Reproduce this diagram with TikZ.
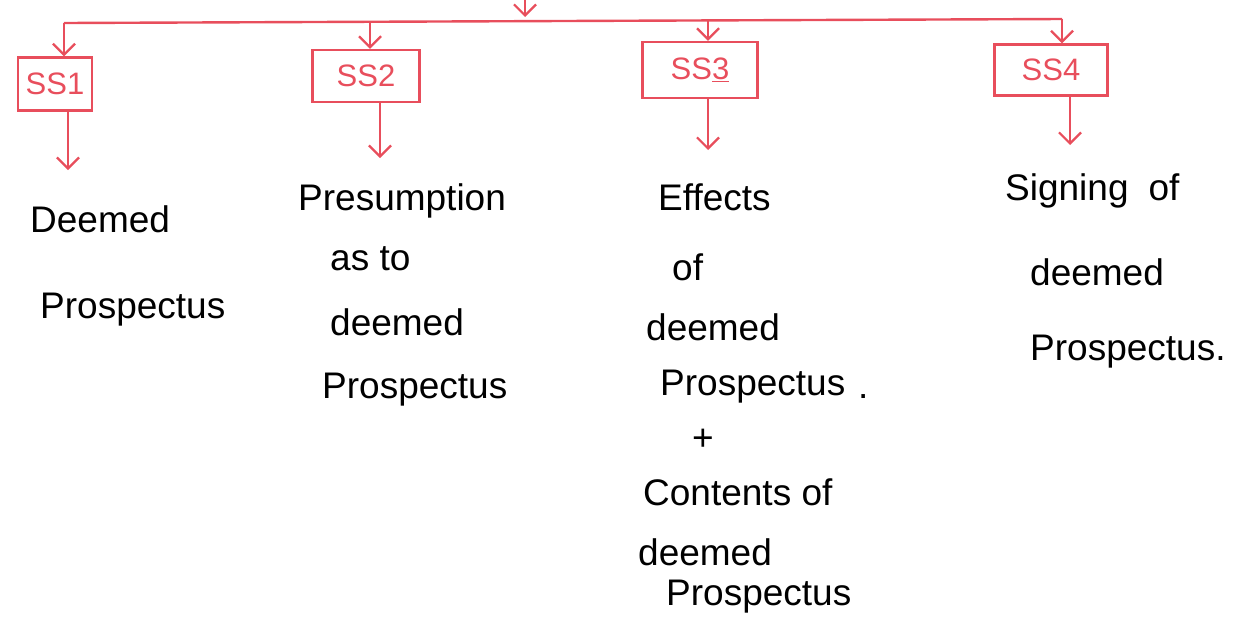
\documentclass[tikz,border=0pt]{standalone}
\usepackage{fontspec}
\setmainfont{Liberation Sans}
\usetikzlibrary{arrows.meta}
\definecolor{pen}{RGB}{232,78,92}
\tikzset{
  x=1pt, y=-1pt,
  redline/.style={draw=pen, line width=2.4pt},
  redarrow/.style={draw=pen, line width=2.4pt, -{Straight Barb[length=11pt,width=22pt,line width=2.2pt]}},
  ssbox/.style={draw=pen, line width=2.4pt, text=pen, inner sep=0pt, font=\fontsize{31}{33}\selectfont},
  hand/.style={anchor=base west, inner sep=0pt, font=\fontsize{37}{40}\selectfont, text=black}
}
\begin{document}
\begin{tikzpicture}
\useasboundingbox (0,0) rectangle (1234,622);
% boxes
\node[ssbox, minimum width=74pt, minimum height=53pt] (ss1) at (55,84) {SS1};
\node[ssbox, minimum width=107pt, minimum height=52pt] (ss2) at (366,76) {SS2};
\node[ssbox, minimum width=115pt, minimum height=56pt] (ss3) at (700,70) {SS\underline{3}};
\node[ssbox, minimum width=113pt, minimum height=51pt] (ss4) at (1051,70) {SS4};
% top line
\coordinate (src) at (525,0);
\coordinate (hub) at (525,17);
\coordinate (L) at (64,23);
\coordinate (R) at (1062,19);
\coordinate (b2) at (370,21);
\coordinate (b3) at (708,20);
\draw[redline] (L) -- (R);
\draw[redarrow] (src) -- (hub);
\draw[redarrow] (L) -- (ss1.north -| L);
\draw[redarrow] (b2) -- (ss2.north -| b2);
\draw[redarrow] (b3) -- (ss3.north -| b3);
\draw[redarrow] (R) -- (ss4.north -| R);
% texts
\node[hand] (t1a) at (30,232) {Deemed};
\node[hand] (t1b) at (40,318) {Prospectus};
\node[hand] (t2a) at (298,210) {Presumption};
\node[hand] (t2b) at (330,270) {as to};
\node[hand] (t2c) at (330,335) {deemed};
\node[hand] (t2d) at (322,398) {Prospectus};
\node[hand] (t3a) at (658,210) {Effects};
\node[hand] (t3b) at (672,280) {of};
\node[hand] (t3c) at (646,340) {deemed};
\node[hand] (t3d) at (660,395) {Prospectus};
\node[hand] (dot) at (858,398) {.};
\node[hand] (t3e) at (692,450) {+};
\node[hand] (t3f) at (643,505) {Contents of};
\node[hand] (t3g) at (638,565) {deemed};
\node[hand] (t3h) at (666,605) {Prospectus};
\node[hand] (t4a) at (1005,200) {Signing\hspace{20pt}of};
\node[hand] (t4b) at (1030,285) {deemed};
\node[hand] (t4c) at (1030,360) {Prospectus.};
% arrows from boxes
\draw[redarrow] (ss1.south -| 68,0) -- (68,170);
\draw[redarrow] (ss2.south -| 380,0) -- (380,158);
\draw[redarrow] (ss3.south -| 708,0) -- (708,150);
\draw[redarrow] (ss4.south -| 1070,0) -- (1070,145);
\end{tikzpicture}
\end{document}
